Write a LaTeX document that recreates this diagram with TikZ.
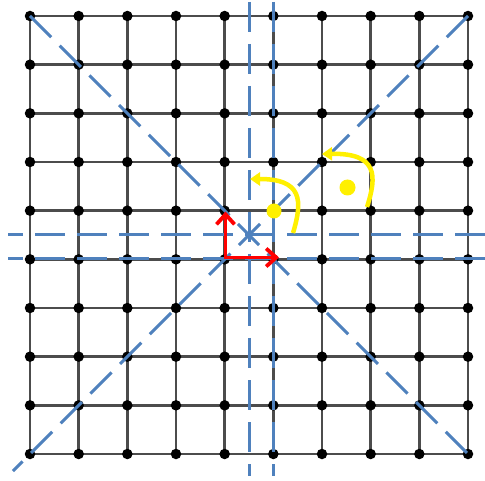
\documentclass[tikz,border=0pt]{standalone}
\usetikzlibrary{arrows.meta}
\pgfdeclarelayer{bg}
\pgfsetlayers{bg,main}
\definecolor{dblue}{RGB}{79,129,189}
\definecolor{myyellow}{RGB}{255,240,0}
\begin{document}
\begin{tikzpicture}[x=1pt,y=-1pt,
  dot/.style={circle,fill=black,inner sep=0pt,minimum size=10.5pt},
  gridline/.style={draw=black!70,line width=2.4pt},
  bluedash/.style={draw=dblue,line width=3pt,dash pattern=on 30pt off 12pt},
  redarrow/.style={draw=red,line width=3.8pt,{Straight Barb[length=10pt,width=18pt]}-{Straight Barb[length=10pt,width=18pt]}},
  yelarrow/.style={draw=myyellow,line width=4.5pt,-{Triangle[length=10pt,width=13pt]}},
  yeldot/.style={circle,fill=myyellow,inner sep=0pt}]
\useasboundingbox (0,0) rectangle (485,481);
% grid nodes
\foreach \i in {0,...,9}{
  \foreach \j in {0,...,9}{
    \node[dot] (n\i-\j) at ({30+48.667*\i},{16+48.667*\j}) {};
  }
}
% white background and grid lines
\begin{pgfonlayer}{bg}
\fill[white] (0,0) rectangle (485,481);
\foreach \i in {0,...,9}{
  \draw[gridline] (n\i-0.center) -- (n\i-9.center);
  \draw[gridline] (n0-\i.center) -- (n9-\i.center);
}
\end{pgfonlayer}
% blue dashed symmetry lines
\coordinate (d1a) at (30,16);
\coordinate (d1b) at (469,455);
\coordinate (d2a) at (468,16);
\coordinate (d2b) at (13,471);
\coordinate (v1a) at (249,2);
\coordinate (v1b) at (249,476);
\coordinate (v2a) at (273.5,2);
\coordinate (v2b) at (273.5,476);
\coordinate (h1a) at (8,235);
\coordinate (h1b) at (485,235);
\coordinate (h2a) at (8,258.5);
\coordinate (h2b) at (485,258.5);
\draw[bluedash] (d1a) -- (d1b);
\draw[bluedash] (d2a) -- (d2b);
\draw[bluedash] (v1a) -- (v1b);
\draw[bluedash] (v2a) -- (v2b);
\draw[bluedash,dash phase=15pt] (h1a) -- (h1b);
\draw[bluedash,dash phase=15pt] (h2a) -- (h2b);
% red arrows
\coordinate (rc) at (225.5,257.5);
\coordinate (rtop) at (225.5,211.5);
\coordinate (rright) at (279,257.5);
\draw[redarrow,line join=miter] (rtop) -- (rc) -- (rright);
% yellow dots
\node[yeldot,minimum size=15pt] (y1) at (274,211) {};
\node[yeldot,minimum size=16pt] (y2) at (347.5,187.5) {};
% yellow arrows
\coordinate (ya1) at (293,233);
\coordinate (yb1) at (250,179);
\coordinate (ya2) at (367,207);
\coordinate (yb2) at (322,154);
\draw[yelarrow] (ya1) .. controls (303,200) and (302,179) .. (yb1);
\draw[yelarrow] (ya2) .. controls (377,176) and (378,153) .. (yb2);
\end{tikzpicture}
\end{document}
